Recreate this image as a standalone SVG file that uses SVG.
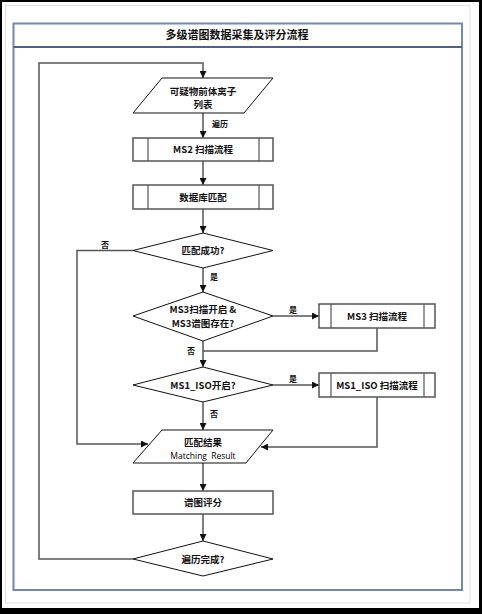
<svg xmlns="http://www.w3.org/2000/svg" width="482" height="614" viewBox="0 0 482 614">
<style>
  .lbl { font-family: "Noto Sans CJK SC", "Liberation Sans", sans-serif; font-size: 9.5px; font-weight: bold; fill: #111; text-anchor: middle; }
  .small { font-family: "Noto Sans CJK SC", "Liberation Sans", sans-serif; font-size: 8px; font-weight: bold; fill: #111; }
  .latin { font-family: "Open Sans", "Liberation Sans", sans-serif; font-size: 8.5px; fill: #000; text-anchor: middle; word-spacing: 2px; }
  .box { fill: #fff; stroke: #555; stroke-width: 1.5; }
  .inner { stroke: #555; stroke-width: 1.2; }
  .shape { fill: #fff; stroke: #111; stroke-width: 1; }
  .conn { fill: none; stroke: #555; stroke-width: 1.5; }
</style>
<defs>
  <marker id="arr" viewBox="0 0 10 10" refX="10" refY="5" markerWidth="7" markerHeight="7" markerUnits="userSpaceOnUse" orient="auto">
    <path d="M0,0 L10,5 L0,10 z" fill="#111"/>
  </marker>
</defs>
<rect x="0" y="0" width="482" height="614" fill="#000"/>
<rect x="2" y="2" width="477" height="606" fill="#fff"/>
<rect x="5.5" y="5.5" width="464.5" height="597.5" fill="none" stroke="#dde0ea" stroke-width="1"/>
<g id="container">
  <rect x="13.5" y="23.5" width="448.5" height="566.5" fill="#fff" stroke="#6f89b0" stroke-width="2"/>
  <line x1="13.5" y1="47" x2="462" y2="47" stroke="#4a6492" stroke-width="2"/>
  <text x="237" y="39" class="lbl" style="font-size:11px">多级谱图数据采集及评分流程</text>
</g>
<g id="connectors">
  <path class="conn" d="M133,559 H39 V63 H203 V78" marker-end="url(#arr)"/>
  <path class="conn" d="M203,113 V138" marker-end="url(#arr)"/>
  <path class="conn" d="M203,161 V185" marker-end="url(#arr)"/>
  <path class="conn" d="M203,209 V233" marker-end="url(#arr)"/>
  <path class="conn" d="M133,250.5 H77 V444 H148" marker-end="url(#arr)"/>
  <path class="conn" d="M203,268 V292" marker-end="url(#arr)"/>
  <path class="conn" d="M273,316 H319" marker-end="url(#arr)"/>
  <path class="conn" d="M377,328 V351 H203"/>
  <path class="conn" d="M203,341 V367" marker-end="url(#arr)"/>
  <path class="conn" d="M273,385 H319" marker-end="url(#arr)"/>
  <path class="conn" d="M377,397 V447 H261" marker-end="url(#arr)"/>
  <path class="conn" d="M203,402 V430" marker-end="url(#arr)"/>
  <path class="conn" d="M203,463 V491" marker-end="url(#arr)"/>
  <path class="conn" d="M203,514 V541" marker-end="url(#arr)"/>
  <text x="212" y="127" class="small">遍历</text>
  <text x="101" y="248" class="small">否</text>
  <text x="210" y="280" class="small">是</text>
  <text x="289" y="313" class="small">是</text>
  <text x="187" y="354" class="small">否</text>
  <text x="289" y="382" class="small">是</text>
  <text x="210" y="417" class="small">否</text>
</g>
<g id="precursor-list">
  <polygon class="shape" points="162,78 273,78 244,113 133,113"/>
  <text x="203" y="94.5" class="lbl">可疑物前体离子</text>
  <text x="203" y="108" class="lbl">列表</text>
</g>
<g id="ms2-scan">
  <rect class="box" x="133" y="138" width="140" height="23"/>
  <line class="inner" x1="148" y1="138" x2="148" y2="161"/>
  <line class="inner" x1="259" y1="138" x2="259" y2="161"/>
  <text x="203" y="153" class="lbl">MS2 扫描流程</text>
</g>
<g id="db-match">
  <rect class="box" x="133" y="185" width="140" height="24"/>
  <line class="inner" x1="148" y1="185" x2="148" y2="209"/>
  <line class="inner" x1="259" y1="185" x2="259" y2="209"/>
  <text x="203" y="200.5" class="lbl">数据库匹配</text>
</g>
<g id="match-ok">
  <polygon class="shape" points="203,233 273,250.5 203,268 133,250.5"/>
  <text x="203" y="254" class="lbl">匹配成功?</text>
</g>
<g id="ms3-check">
  <polygon class="shape" points="203,292 273,316 203,341 133,316"/>
  <text x="203" y="313" class="lbl">MS3扫描开启 &amp;</text>
  <text x="203" y="326.5" class="lbl">MS3谱图存在?</text>
</g>
<g id="ms3-scan">
  <rect class="box" x="319" y="304" width="116" height="24"/>
  <line class="inner" x1="331" y1="304" x2="331" y2="328"/>
  <line class="inner" x1="424" y1="304" x2="424" y2="328"/>
  <text x="377" y="319.5" class="lbl">MS3 扫描流程</text>
</g>
<g id="ms1iso-check">
  <polygon class="shape" points="203,367 273,385 203,402 133,385"/>
  <text x="203" y="388.5" class="lbl">MS1_ISO开启?</text>
</g>
<g id="ms1iso-scan">
  <rect class="box" x="319" y="373" width="116" height="24"/>
  <line class="inner" x1="331" y1="373" x2="331" y2="397"/>
  <line class="inner" x1="424" y1="373" x2="424" y2="397"/>
  <text x="377" y="388.5" class="lbl">MS1_ISO 扫描流程</text>
</g>
<g id="match-result">
  <polygon class="shape" points="162,430 273,430 246,463 133,463"/>
  <text x="203" y="446" class="lbl">匹配结果</text>
  <text x="203" y="458.5" class="latin">Matching Result</text>
</g>
<g id="scoring">
  <rect class="box" x="133" y="491" width="140" height="23"/>
  <text x="203" y="506" class="lbl">谱图评分</text>
</g>
<g id="traverse-done">
  <polygon class="shape" points="203,541 273,559 203,576 133,559"/>
  <text x="203" y="562.5" class="lbl">遍历完成?</text>
</g>
</svg>
